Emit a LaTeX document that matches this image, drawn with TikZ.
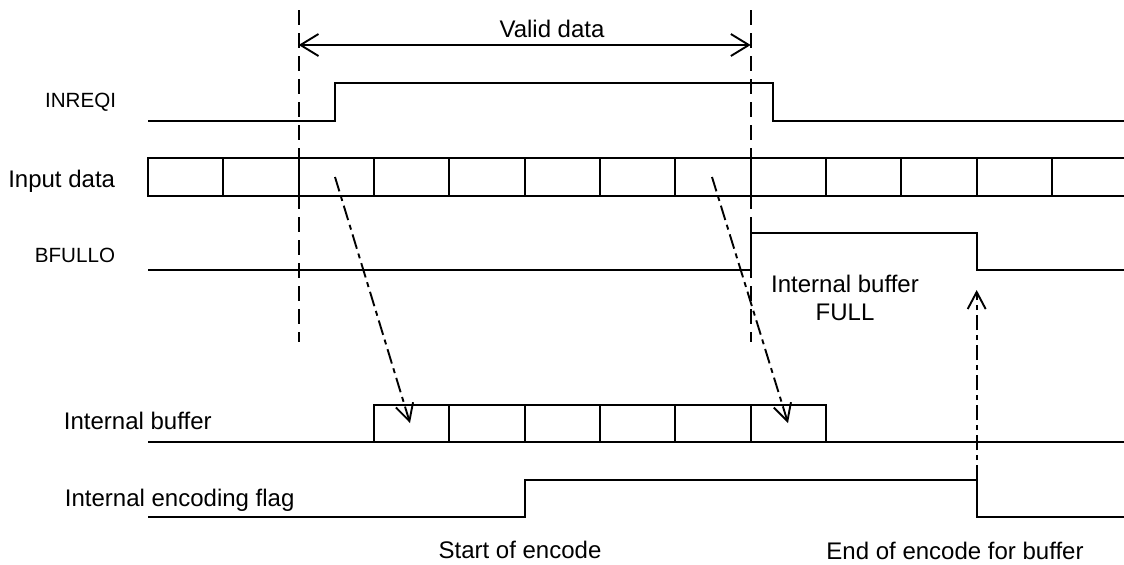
\documentclass[tikz,border=0pt]{standalone}
\usepackage{fontspec}
\setmainfont{Liberation Sans}
\usetikzlibrary{arrows.meta}
\begin{document}
\begin{tikzpicture}[x=0.5pt,y=-0.5pt, line width=0.95pt, line join=miter,
  sig/.style={line width=0.95pt},
  guide/.style={line width=0.95pt, dash pattern=on 7.5pt off 4pt},
  flow/.style={line width=0.95pt, dash pattern=on 7.5pt off 2.5pt on 2.5pt off 2.5pt,
    -{Straight Barb[length=8.5pt,width=9pt,line width=0.95pt]}},
  span/.style={line width=0.95pt,
    {Straight Barb[length=9pt,width=11pt,line width=0.95pt]}-{Straight Barb[length=9pt,width=11pt,line width=0.95pt]}},
  lbl/.style={inner sep=0pt, font=\fontsize{12}{14}\selectfont},
  slbl/.style={inner sep=0pt, font=\fontsize{10.3}{12}\selectfont}]
\useasboundingbox (0,0) rectangle (1124,564);
\def\cw{75.3333}

% labels
\node[slbl, anchor=base east] (lINREQI) at (117,107) {INREQI};
\node[lbl, anchor=base east] (lInput) at (116,187) {Input data};
\node[slbl, anchor=base east] (lBFULLO) at (116,262) {BFULLO};
\node[lbl, anchor=base west] (lBuf) at (63,429) {Internal buffer};
\node[lbl, anchor=base west] (lFlag) at (64,506) {Internal encoding flag};
\node[lbl, anchor=base] (lValid) at (552,37) {Valid data};
\node[lbl, anchor=north, align=center] (lFull) at (845,274) {Internal buffer\\FULL};
\node[lbl, anchor=base] (lStart) at (520,558) {Start of encode};
\node[lbl, anchor=base] (lEnd) at (955,559) {End of encode for buffer};

% guide lines
\coordinate (gAtop) at (298.67,10);
\coordinate (gAbot) at (298.67,342);
\coordinate (gBtop) at (750.67,10);
\coordinate (gBbot) at (750.67,342);
\draw[guide] (gAtop) -- (gAbot);
\draw[guide] (gBtop) -- (gBbot);
\coordinate (vA) at (298.67,45);
\coordinate (vB) at (750.67,45);
\draw[span] (vA) -- (vB);

% INREQI
\draw[sig] (148,121) -- (335,121) -- (335,83) -- (773,83) -- (773,121) -- (1124,121);

% Input data
\draw[sig] (1124,158) -- (148,158) -- (148,196) -- (1124,196);
\foreach \k in {1,...,12} \draw[sig] (148+\k*\cw,158) -- (148+\k*\cw,196);

% BFULLO
\draw[sig] (148,270) -- (750.67,270) -- (750.67,233) -- (976.67,233) -- (976.67,270) -- (1124,270);

% Internal buffer
\draw[sig] (148,442) -- (1124,442);
\draw[sig] (374,442) -- (374,405) -- (826,405) -- (826,442);
\foreach \k in {4,...,8} \draw[sig] (148+\k*\cw,405) -- (148+\k*\cw,442);

% Internal encoding flag
\draw[sig] (148,517) -- (524.67,517) -- (524.67,480) -- (976.67,480) -- (976.67,517) -- (1124,517);

% flow arrows
\coordinate (f1s) at (335,177);
\coordinate (f1e) at (410,423);
\coordinate (f2s) at (712,177);
\coordinate (f2e) at (788,423);
\coordinate (f3s) at (976.67,480);
\coordinate (f3e) at (976.67,290);
\draw[flow] (f1s) -- (f1e);
\draw[flow] (f2s) -- (f2e);
\draw[flow] (f3s) -- (f3e);
\end{tikzpicture}
\end{document}
